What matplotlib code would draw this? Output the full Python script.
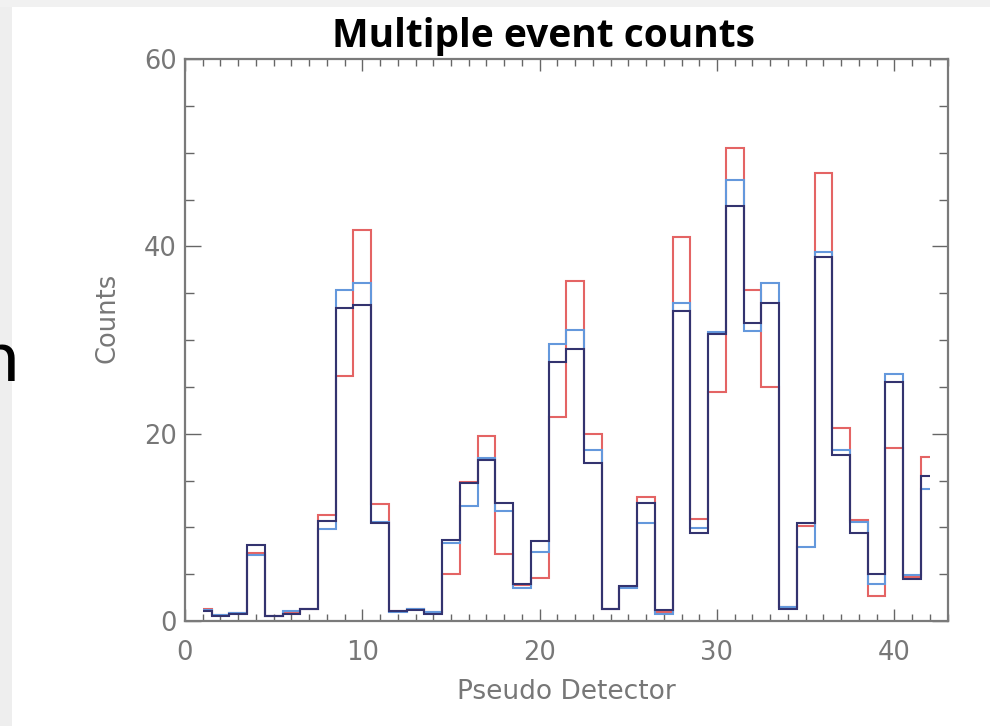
import numpy as np
import matplotlib
matplotlib.use("Agg")
import matplotlib.pyplot as plt
from matplotlib.patches import Rectangle
from matplotlib.ticker import MultipleLocator

# Pseudo detector index and multiple-event counts for three runs
detector = np.arange(1, 43)

counts_red = [1.3, 0.6, 0.9, 7.3, 0.5, 0.9, 1.3, 11.3, 26.2, 41.7,
              12.5, 1.1, 1.25, 1.0, 5.0, 14.8, 19.7, 7.2, 3.8, 4.6,
              21.8, 36.3, 20.0, 1.25, 3.6, 13.2, 1.0, 41.0, 10.9, 24.5,
              50.5, 35.3, 25.0, 1.5, 10.1, 47.8, 20.6, 10.8, 2.7, 18.5,
              4.7, 17.5]

counts_blue = [1.2, 0.6, 0.9, 7.0, 0.5, 1.1, 1.3, 9.8, 35.3, 36.1,
               10.6, 1.0, 1.25, 1.0, 8.3, 12.3, 17.4, 11.7, 3.5, 7.4,
               29.6, 31.1, 18.3, 1.25, 3.5, 10.5, 0.75, 33.9, 9.9, 30.9,
               47.1, 31.0, 36.1, 1.5, 7.9, 39.4, 18.3, 10.6, 4.0, 26.4,
               4.9, 14.1]

counts_dark = [1.1, 0.5, 0.7, 8.1, 0.5, 0.8, 1.3, 10.7, 33.4, 33.7,
               10.5, 1.1, 1.2, 0.8, 8.7, 14.7, 17.2, 12.6, 4.0, 8.5,
               27.7, 29.0, 16.9, 1.25, 3.7, 12.6, 1.2, 33.1, 9.4, 30.6,
               44.3, 31.8, 33.9, 1.3, 10.5, 38.9, 17.7, 9.4, 5.0, 25.5,
               4.5, 15.5]

W, H = 990, 726
fig = plt.figure(figsize=(W / 100, H / 100), dpi=100, facecolor="white")

# slide background strips
fig.patches.append(Rectangle((0, 0), 12 / W, 1, transform=fig.transFigure,
                             facecolor="#eeeeee", edgecolor="none", zorder=0))
fig.patches.append(Rectangle((0, 1 - 7 / H), 1, 7 / H, transform=fig.transFigure,
                             facecolor="#f1f1f1", edgecolor="none", zorder=0))
fig.text(19 / W, 1 - 381 / H, "n", ha="right", va="baseline",
         fontsize=52, family="Lato", color="black")

left, right, top, bottom = 185, 947.5, 59, 621
ax = fig.add_axes([left / W, 1 - bottom / H, (right - left) / W, (bottom - top) / H])

# IDL-style histogram steps: half bins at both ends
edges = np.concatenate([[detector[0]], (detector[:-1] + detector[1:]) / 2, [detector[-1]]])
ax.stairs(counts_red, edges, baseline=None, color="#e46464", lw=1.5, zorder=2)
ax.stairs(counts_blue, edges, baseline=None, color="#6498dc", lw=1.5, zorder=3)
ax.stairs(counts_dark, edges, baseline=None, color="#33336f", lw=1.5, zorder=4)

ax.set_xlim(0, 43)
ax.set_ylim(0, 60)

frame_col = "#7a7a7a"
for s in ax.spines.values():
    s.set_color(frame_col)
    s.set_linewidth(1.6)

ax.xaxis.set_major_locator(MultipleLocator(10))
ax.xaxis.set_minor_locator(MultipleLocator(1))
ax.yaxis.set_major_locator(MultipleLocator(20))
ax.yaxis.set_minor_locator(MultipleLocator(5))

ax.tick_params(axis="both", which="both", direction="in", top=True, right=True,
               color="#666666", width=1.0)
ax.tick_params(axis="x", which="major", length=8.6, pad=14)
ax.tick_params(axis="x", which="minor", length=5)
ax.tick_params(axis="y", which="major", length=11.5, pad=6)
ax.tick_params(axis="y", which="minor", length=6.5)

lab_col = "#777777"
for t in ax.get_xticklabels() + ax.get_yticklabels():
    t.set_fontsize(18.5)
    t.set_color(lab_col)
    t.set_family("DejaVu Sans")

ax.set_xlabel("Pseudo Detector", fontsize=19, color=lab_col, labelpad=9,
              family="DejaVu Sans")
ax.set_ylabel("Counts", fontsize=18.5, color=lab_col, family="DejaVu Sans")
ax.yaxis.set_label_coords((121 - left) / (right - left), (bottom - 318) / (bottom - top))

fig.text(543 / W, 1 - 37 / H, "Multiple event counts", ha="center", va="center",
         fontsize=28, fontweight="bold", family="Open Sans", color="black")

fig.savefig("out.png", dpi=100, facecolor="white")
